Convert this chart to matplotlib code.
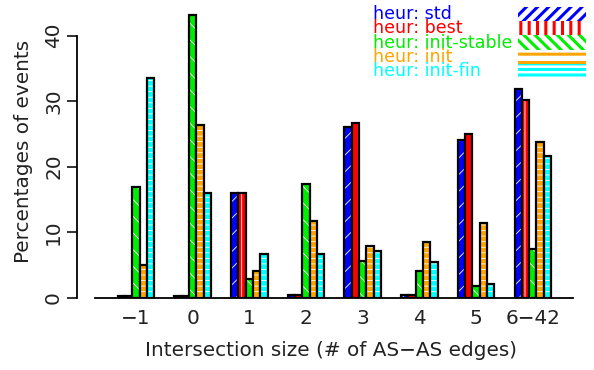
import numpy as np
import matplotlib
matplotlib.use('Agg')
import matplotlib.pyplot as plt
from matplotlib.patches import Rectangle

plt.rcParams['font.family'] = ['DejaVu Sans']

categories = ['\u22121', '0', '1', '2', '3', '4', '5', '6\u221242']
series_names = ['heur: std', 'heur: best', 'heur: init-stable', 'heur: init', 'heur: init-fin']
colors = ['#0000ff', '#ff0000', '#00ee00', '#ffa500', '#00ffff']

std = [0.3, 0.3, 15.9, 0.4, 26.0, 0.45, 24.0, 31.9]
best = [0.3, 0.3, 15.9, 0.4, 26.6, 0.45, 25.0, 30.2]
init_stable = [16.9, 43.2, 2.9, 17.3, 5.6, 4.1, 1.8, 7.4]
init = [5.0, 26.3, 4.0, 11.7, 7.9, 8.5, 11.4, 23.7]
init_fin = [33.5, 16.0, 6.7, 6.7, 7.1, 5.4, 2.1, 21.6]
series = [std, best, init_stable, init, init_fin]

bar_hatch = ['//', '|', '\\\\', '---', '---']
legend_hatch = ['///', '||', '\\\\\\', '--', '---']

fig = plt.figure(figsize=(5.94, 3.70), dpi=100)
ax = fig.add_axes([77 / 594, 72.5 / 370, (585 - 77) / 594, 292.5 / 370])

x = np.arange(len(categories))
w = 0.129
for k, vals in enumerate(series):
    pos = x + (k - 2) * w
    fills = ax.bar(pos, vals, width=w, color=colors[k], edgecolor='white',
                   hatch=bar_hatch[k], linewidth=0)
    for p in fills:
        if hasattr(p, 'set_hatch_linewidth'):
            p.set_hatch_linewidth(0.6)
    ax.bar(pos, vals, width=w, fill=False, edgecolor='black', linewidth=1.6)

ax.set_xlim(-1.04, 7.92)
ax.set_ylim(0, 44.66)

for s in ['top', 'right']:
    ax.spines[s].set_visible(False)
ax.spines['left'].set_bounds(0, 40)
ax.spines['bottom'].set_bounds(-0.72, 7.70)
ax.spines['left'].set_linewidth(1.3)
ax.spines['bottom'].set_linewidth(1.3)

txt = '#222222'
ax.set_yticks([0, 10, 20, 30, 40])
ax.tick_params(axis='y', length=7, width=1.3, pad=3, labelsize=14.4, colors=txt)
for t in ax.get_yticklabels():
    t.set_rotation(90)
    t.set_va('center')
ax.set_xticks(x)
ax.set_xticklabels(categories)
ax.tick_params(axis='x', length=0, pad=8, labelsize=14.4, labelcolor=txt)

ax.set_xlabel('Intersection size (# of AS\u2212AS edges)', fontsize=14.4, color=txt, labelpad=10)
ax.set_ylabel('Percentages of events', fontsize=14.4, color=txt, labelpad=8)

# legend drawn by hand: coloured text, hatched swatch on the right
row_h = 14.3 / 292.5
for k, name in enumerate(series_names):
    yc = 1 - (9 + 14.3 * k) / 292.5
    ax.text((373 - 77) / 508, yc, name, color=colors[k], fontsize=12.6,
            va='center', ha='left', transform=ax.transAxes)
    sw = Rectangle(((518 - 77) / 508, yc - row_h / 2), 68 / 508, row_h,
                   transform=ax.transAxes, facecolor='white', edgecolor=colors[k],
                   hatch=legend_hatch[k], linewidth=0, clip_on=False)
    if hasattr(sw, 'set_hatch_linewidth'):
        sw.set_hatch_linewidth(2.2)
    ax.add_patch(sw)

fig.savefig('out.png', dpi=100)
